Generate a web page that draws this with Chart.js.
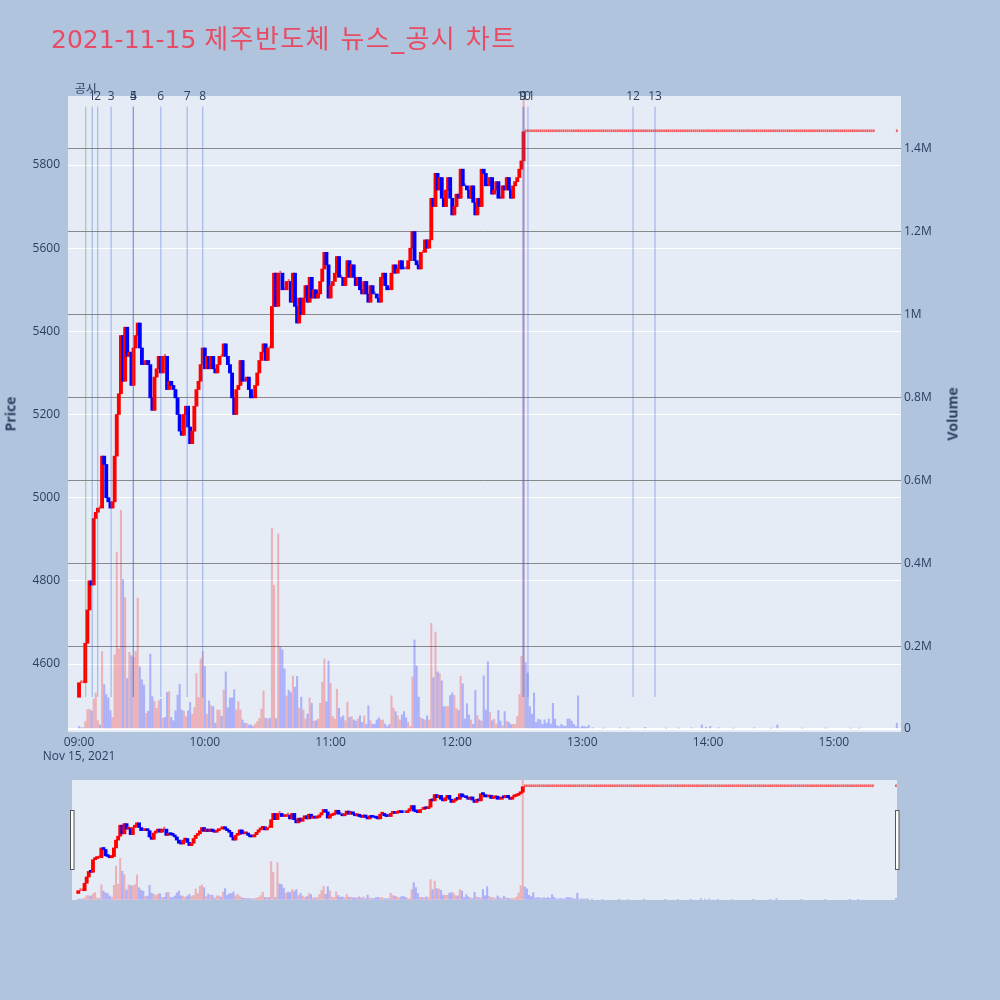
<!DOCTYPE html>
<html lang="ko">
<head>
<meta charset="utf-8">
<title>제주반도체 뉴스_공시 차트</title>
<script src="https://cdn.jsdelivr.net/npm/chart.js@4.4.1/dist/chart.umd.min.js"></script>
<style>
  html, body { margin: 0; padding: 0; }
  body {
    width: 1000px; height: 1000px; position: relative; overflow: hidden;
    background: #b0c4de;
    font-family: "Open Sans", "Noto Sans CJK KR", sans-serif;
  }
  canvas { position: absolute; }
  #mainChart { left: 0; top: 0; }
  #sliderChart { left: 60px; top: 775px; }
  #title {
    position: absolute; left: 51px; top: 23px; white-space: nowrap;
    font-family: "DejaVu Sans", "Noto Sans CJK KR", sans-serif;
    font-size: 25px; line-height: 32px; color: #e84c64;
  }
  #title .ko { font-size: 26px; letter-spacing: 1.4px; }
  .axis-title {
    position: absolute; white-space: nowrap;
    font-size: 14px; font-weight: bold; color: #2a3f5f;
    transform: translate(-50%, -50%) rotate(-90deg);
  }
</style>
</head>
<body>
<canvas id="mainChart" width="1000" height="771"></canvas>
<canvas id="sliderChart" width="850" height="130"></canvas>
<div id="title">2021-11-15 <span class="ko">제주반도체 뉴스_공시 차트</span></div>
<div class="axis-title" style="left:10px;top:414px">Price</div>
<div class="axis-title" style="left:952px;top:414px">Volume</div>
<script>
'use strict';

// ─── 축 눈금 ──────────────────────────────────────────────────────────────
const TIME_TICKS  = [0, 60, 120, 180, 240, 300, 360];          // 09:00 기준 분
const TIME_LABELS = ['09:00', '10:00', '11:00', '12:00', '13:00', '14:00', '15:00'];
const DATE_LABEL  = 'Nov 15, 2021';
const PRICE_TICKS = [4600, 4800, 5000, 5200, 5400, 5600, 5800];
const VOL_TICKS   = [0, 200000, 400000, 600000, 800000, 1000000, 1200000, 1400000];
const VOL_LABELS  = ['0', '0.2M', '0.4M', '0.6M', '0.8M', '1M', '1.2M', '1.4M'];

// ─── 1분봉 (09:00 부터, 종가 / 시가 = 직전 종가) ─────────────────────────
const FIRST_OPEN = 4520;
const CLOSE = [
  4555, 4555, 4555, 4650, 4730, 4800, 4790, 4950, 4965, 4975,
  4975, 5100, 5080, 5000, 4990, 4975, 4990, 5100, 5200, 5250,
  5390, 5280, 5410, 5340, 5350, 5270, 5360, 5390, 5420, 5360,
  5320, 5320, 5330, 5320, 5240, 5210, 5290, 5310, 5340, 5300,
  5340, 5340, 5260, 5280, 5270, 5260, 5240, 5200, 5160, 5150,
  5200, 5220, 5170, 5130, 5160, 5220, 5260, 5280, 5320, 5360,
  5310, 5340, 5310, 5340, 5310, 5300, 5320, 5340, 5340, 5370,
  5340, 5320, 5300, 5240, 5200, 5260, 5270, 5330, 5280, 5280,
  5290, 5260, 5240, 5240, 5270, 5300, 5330, 5350, 5370, 5330,
  5360, 5360, 5460, 5540, 5460, 5540, 5540, 5500, 5500, 5520,
  5520, 5470, 5540, 5460, 5420, 5480, 5440, 5480, 5510, 5470,
  5530, 5480, 5500, 5480, 5490, 5520, 5550, 5590, 5560, 5480,
  5510, 5520, 5540, 5580, 5530, 5530, 5510, 5530, 5570, 5530,
  5560, 5530, 5510, 5530, 5500, 5490, 5520, 5490, 5470, 5510,
  5490, 5490, 5480, 5470, 5530, 5540, 5510, 5500, 5500, 5540,
  5560, 5540, 5550, 5570, 5550, 5550, 5550, 5570, 5600, 5640,
  5570, 5560, 5550, 5590, 5590, 5620, 5600, 5620, 5720, 5700,
  5780, 5740, 5770, 5720, 5700, 5740, 5770, 5720, 5680, 5700,
  5730, 5720, 5790, 5750, 5750, 5740, 5720, 5750, 5710, 5680,
  5720, 5700, 5790, 5780, 5750, 5750, 5770, 5730, 5740, 5760,
  5720, 5720, 5750, 5740, 5770, 5740, 5720, 5750, 5760, 5770,
  5790, 5810, 5880
];

// 12:33 이후 상한가(5880) 고정 구간, 15:30 종가 단일가
const LOCK_PRICE  = 5880;
const LOCK_FROM   = 213;
const LOCK_TO     = 379;
const CLOSING_MIN = 390;

// ─── 분별 거래량 (천 주, 09:00 ~ 13:03) ──────────────────────────────────
const VOL_K = [
    6,   3,   3,  18,  47,  48,  44,  72,  87,  20,
   10, 187, 107,  83,  75,  44,  28, 179, 427, 194,
  528, 361, 317, 122, 185, 177, 173, 187, 316, 150,
  119, 106,  38,  43, 181,  78,  67,  50,  68,  72,
   26,  28,  88,  90,  28,  20,  44,  82, 108,  46,
   43,  30,  44,  64,  36,  52, 134,  76, 169, 187,
  151,  36,  68,  56,  54,  14,  46,  46,  31,  94,
  138,  51,  75,  75,  95,  46,  66,  46,  22,  14,
   14,  10,  10,   6,  12,  18,  26,  48,  92,  26,
   24,  26, 484, 347,  25, 471, 198, 191, 145,  80,
   94,  88, 128, 101, 127,  50,  77,  46,  24,  36,
   75,  62,  19,  20,  24,  62, 113, 169,  66, 164,
  110,  30,  24,  96,  50,  28,  32,  20,  65,  28,
   30,  22,  19,  24,  32,  16,  32,  11,  56,  20,
   11,  12,  22,  27,  22,  22,  12,   6,  11,  80,
   51,  42,  32,  22,  34,  42,  27,  16,   6, 126,
  215, 152,  77,  27,  24,  22,  32,  22, 255, 124,
  234, 138, 134, 116,  54,  54,  54,  81,  87,  81,
   50,  45, 127, 109,  24,  61,  34,  22,  11,  93,
   32,  22,  19, 128,  46, 162,  40,  20,  24,  12,
   45,  19,   8,  42,  19,  16,  11,  11,  11,  30,
   83, 176, 2400, 160, 135, 54,  36,  87,  16,  24,
   22,  11,  22,  14,  24,  12,  62,  24,   8,   6,
   11,   8,   6,  24,  24,  19,  11,   6,  80,   3,
    7,   6,   4,   9
];
// 오후 드문 체결 (분, 천 주)
const LATE_VOL_MIN = [245, 250, 258, 262, 270, 280, 286, 292, 297, 299, 301, 305, 312, 322, 330, 333, 345, 356, 368, 372, 390];
const LATE_VOL_K   = [  3,   2,   3,   2,   4,   2,   2,   3,  10,   4,   6,   3,   2,   3,   2,  10,   2,   2,   2,   2,  14];

// ─── 뉴스 / 공시 수직선 (분) ─────────────────────────────────────────────
const NEWS_MIN    = [6.3, 8.9, 15.3, 25.9, 25.9, 39, 51.6, 59, 211.7, 212.2, 214.1, 264.2, 274.7];
const NEWS_LABELS = ['1', '2', '3', '4', '5', '6', '7', '8', '9', '10', '11', '12', '13'];
const DISC_MIN    = [3.2];
const DISC_LABELS = ['공시'];

// ─── 색상 / 범위 ─────────────────────────────────────────────────────────
const UP   = '#ff0000';
const DOWN = '#0000ff';
const PLOT_BG = '#e5ecf6';
const TEXT = '#2a3f5f';
const X_RANGE      = [-5.25, 392];
const X_RANGE_MINI = [-3, 390.5];
const PRICE_RANGE  = [4436.5, 5966];
const VOL_RANGE    = [-7241, 1527900];

// ─── 캔들 구성 ───────────────────────────────────────────────────────────
const candles = [];
let prevClose = FIRST_OPEN;
CLOSE.forEach((c, m) => { candles.push({ m, o: prevClose, c }); prevClose = c; });
for (let m = LOCK_FROM; m <= LOCK_TO; m++) candles.push({ m, o: LOCK_PRICE, c: LOCK_PRICE });
candles.push({ m: CLOSING_MIN, o: LOCK_PRICE, c: LOCK_PRICE });

// 보합 캔들은 직전 방향 유지
let dir = 1;
candles.forEach(b => {
  if (b.c > b.o) dir = 1; else if (b.c < b.o) dir = -1;
  b.up = dir > 0;
});

const closeByMin = {};
candles.forEach(b => { closeByMin[b.m] = b.c; });

const volume = [];
VOL_K.forEach((v, m) => volume.push({ m, v: v * 1000 }));
LATE_VOL_MIN.forEach((m, i) => volume.push({ m, v: LATE_VOL_K[i] * 1000 }));
// 거래량 색: 직전 봉 종가 대비 상승이면 빨강
const minsSorted = candles.map(b => b.m);
volume.forEach(p => {
  const i = minsSorted.indexOf(p.m);
  p.up = i > 0 && closeByMin[p.m] > candles[i - 1].c;
});

function buildDatasets() {
  const body = candles.filter(b => b.o !== b.c);
  const doji = candles.filter(b => b.o === b.c);
  return [
    {
      label: 'candle',
      data: body.map(b => ({ x: b.m, y: [b.o, b.c] })),
      backgroundColor: body.map(b => b.up ? UP : DOWN),
      barThickness: 3.2, minBarLength: 2, grouped: false,
      yAxisID: 'y', order: 1
    },
    {
      label: 'doji',
      data: doji.map(b => ({ x: b.m, y: [b.o, b.c] })),
      backgroundColor: doji.map(b => b.up ? 'rgba(255,0,0,0.6)' : 'rgba(0,0,255,0.6)'),
      barThickness: 1.2, minBarLength: 2, grouped: false,
      yAxisID: 'y', order: 2
    },
    {
      label: 'volume',
      data: volume.map(p => ({ x: p.m, y: p.v })),
      backgroundColor: volume.map(p => p.up ? 'rgba(255,0,0,0.25)' : 'rgba(0,0,255,0.25)'),
      barThickness: 1.4, grouped: false,
      yAxisID: 'yv', order: 3
    }
  ];
}

// ─── 플러그인 ────────────────────────────────────────────────────────────
const plotBg = {
  id: 'plotBg',
  beforeDraw(chart) {
    const { ctx, chartArea: a } = chart;
    ctx.save();
    ctx.fillStyle = PLOT_BG;
    ctx.fillRect(a.left, a.top, a.right - a.left, a.bottom - a.top);
    ctx.restore();
  }
};

const LINE_Y0 = 0.055, LINE_Y1 = 0.983;   // paper 좌표
const newsLines = {
  id: 'newsLines',
  afterDatasetsDraw(chart) {
    const { ctx, chartArea: a, scales: { x } } = chart;
    const h = a.bottom - a.top;
    const yBottom = a.bottom - LINE_Y0 * h;
    const yTop = a.bottom - LINE_Y1 * h;
    ctx.save();
    ctx.lineWidth = 1.2;
    const drawSet = (mins, labels, color, labelY) => {
      ctx.strokeStyle = color;
      mins.forEach(t => {
        const px = x.getPixelForValue(t);
        ctx.beginPath(); ctx.moveTo(px, yTop); ctx.lineTo(px, yBottom); ctx.stroke();
      });
      ctx.fillStyle = TEXT;
      ctx.font = '12px "Open Sans", "Noto Sans CJK KR", sans-serif';
      ctx.textAlign = 'center';
      ctx.textBaseline = 'middle';
      mins.forEach((t, i) => ctx.fillText(labels[i], x.getPixelForValue(t), labelY));
    };
    drawSet(DISC_MIN, DISC_LABELS, 'rgba(46,160,67,0.4)', a.top - 6);
    drawSet(NEWS_MIN, NEWS_LABELS, 'rgba(65,105,225,0.4)', a.top + 1);
    ctx.restore();
  }
};

const sliderHandles = {
  id: 'sliderHandles',
  afterDraw(chart) {
    const { ctx, chartArea: a } = chart;
    ctx.save();
    ctx.fillStyle = '#ffffff';
    ctx.strokeStyle = '#555555';
    ctx.lineWidth = 1;
    [a.left - 2, a.right - 2].forEach(hx => {
      ctx.fillRect(hx, a.top + 30, 4, 60);
      ctx.strokeRect(hx + 0.5, a.top + 30.5, 3.5, 59);
    });
    ctx.restore();
  }
};

// ─── 메인 차트 ───────────────────────────────────────────────────────────
const tickFont = { family: '"Open Sans", sans-serif', size: 12 };

new Chart(document.getElementById('mainChart'), {
  type: 'bar',
  data: { datasets: buildDatasets() },
  options: {
    responsive: false,
    animation: false,
    events: [],
    layout: { padding: { top: 96, left: 0, right: 0, bottom: 0 } },
    plugins: { legend: { display: false }, tooltip: { enabled: false } },
    scales: {
      x: {
        type: 'linear', position: 'bottom',
        min: X_RANGE[0], max: X_RANGE[1], offset: false,
        grid: { display: false, drawTicks: false, offset: false },
        border: { display: false },
        afterBuildTicks: s => { s.ticks = TIME_TICKS.map(v => ({ value: v })); },
        afterFit: s => { s.height = 39; },
        ticks: {
          autoSkip: false, maxRotation: 0, padding: 3,
          color: TEXT, font: tickFont,
          callback: (v, i) => i === 0 ? [TIME_LABELS[0], DATE_LABEL] : TIME_LABELS[i]
        }
      },
      y: {
        position: 'left',
        min: PRICE_RANGE[0], max: PRICE_RANGE[1],
        grid: { color: '#ffffff', lineWidth: 1, drawTicks: false },
        border: { display: false },
        afterBuildTicks: s => { s.ticks = PRICE_TICKS.map(v => ({ value: v })); },
        afterFit: s => { s.width = 68; },
        ticks: { padding: 8, color: TEXT, font: tickFont, callback: v => String(v) }
      },
      yv: {
        position: 'right',
        min: VOL_RANGE[0], max: VOL_RANGE[1],
        grid: {
          drawTicks: false,
          color: c => c.tick && c.tick.value === 0 ? '#ffffff' : 'rgba(120,120,120,0.85)',
          lineWidth: c => c.tick && c.tick.value === 0 ? 2 : 1
        },
        border: { display: false },
        afterBuildTicks: s => { s.ticks = VOL_TICKS.map(v => ({ value: v })); },
        afterFit: s => { s.width = 99; },
        ticks: { padding: 3, color: TEXT, font: tickFont, callback: (v, i) => VOL_LABELS[i] }
      }
    }
  },
  plugins: [plotBg, newsLines]
});

// ─── 레인지 슬라이더 (축소판) ────────────────────────────────────────────
new Chart(document.getElementById('sliderChart'), {
  type: 'bar',
  data: { datasets: buildDatasets() },
  options: {
    responsive: false,
    animation: false,
    events: [],
    layout: { padding: { top: 5, left: 12, right: 13, bottom: 5 } },
    plugins: { legend: { display: false }, tooltip: { enabled: false } },
    scales: {
      x: { type: 'linear', display: false, offset: false, min: X_RANGE_MINI[0], max: X_RANGE_MINI[1], grid: { offset: false } },
      y: { display: false, min: PRICE_RANGE[0], max: PRICE_RANGE[1] },
      yv: { display: false, position: 'right', min: VOL_RANGE[0], max: VOL_RANGE[1] }
    }
  },
  plugins: [plotBg, sliderHandles]
});
</script>
</body>
</html>
